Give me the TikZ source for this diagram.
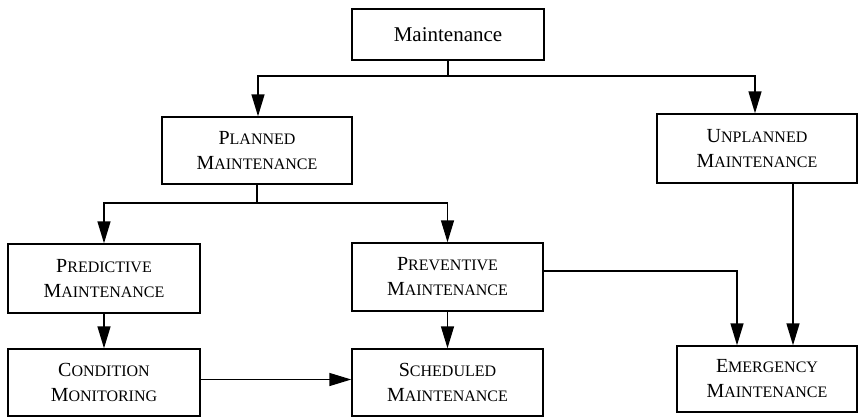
\documentclass[tikz,border=0pt]{standalone}
\usepackage{fontspec}
\setmainfont{Liberation Serif}
\usetikzlibrary{arrows.meta}
\newcommand\smc[1]{{\fontsize{16}{25}\selectfont #1}}
\begin{document}
\begin{tikzpicture}[x=1pt,y=-1pt,
  box/.style={draw, line width=1.4pt, inner sep=0pt, align=center,
    font=\fontsize{20}{25}\selectfont},
  conn/.style={line width=1.4pt},
  arr/.style={line width=1.4pt, -{Triangle[length=22pt,width=13pt]}}]
\useasboundingbox (0,0) rectangle (859,418);
\fill[white] (0,0) rectangle (859,418);
\node[box, minimum width=192pt, minimum height=51pt, font=\fontsize{21}{25}\selectfont] (m) at (448,34.5) {Maintenance};
\node[box, minimum width=190pt, minimum height=67pt] (pl) at (257,150.5) {P\smc{LANNED}\\M\smc{AINTENANCE}};
\node[box, minimum width=200pt, minimum height=69pt] (un) at (757,148.5) {U\smc{NPLANNED}\\M\smc{AINTENANCE}};
\node[box, minimum width=192pt, minimum height=69pt] (pr) at (104,278.5) {P\smc{REDICTIVE}\\M\smc{AINTENANCE}};
\node[box, minimum width=191pt, minimum height=68pt] (pv) at (447.5,277) {P\smc{REVENTIVE}\\M\smc{AINTENANCE}};
\node[box, minimum width=192pt, minimum height=67pt] (co) at (104,382.5) {C\smc{ONDITION}\\M\smc{ONITORING}};
\node[box, minimum width=191pt, minimum height=67pt] (sc) at (447.5,382.5) {S\smc{CHEDULED}\\M\smc{AINTENANCE}};
\node[box, minimum width=180pt, minimum height=66pt] (em) at (767,379) {E\smc{MERGENCY}\\M\smc{AINTENANCE}};
\coordinate (j1) at (448,76);
\coordinate (j2) at (257,203);
\draw[conn] (m.south) -- (j1);
\draw[arr] (j1) -| ([xshift=1pt]pl.north);
\draw[arr] (j1) -| ([xshift=-2pt]un.north);
\draw[conn] (pl.south) -- (j2);
\draw[arr] (j2) -| (pr.north);
\draw[arr] (j2) -| (pv.north);
\draw[arr] (pr.south) -- (co.north);
\draw[arr] (pv.south) -- (sc.north);
\draw[arr] ([yshift=3pt]co.east) -- ([yshift=3pt]sc.west);
\draw[arr] ([yshift=6pt]pv.east) -| ([xshift=-30pt]em.north);
\draw[arr] ([xshift=36pt]un.south) -- ([xshift=26pt]em.north);
\end{tikzpicture}
\end{document}
